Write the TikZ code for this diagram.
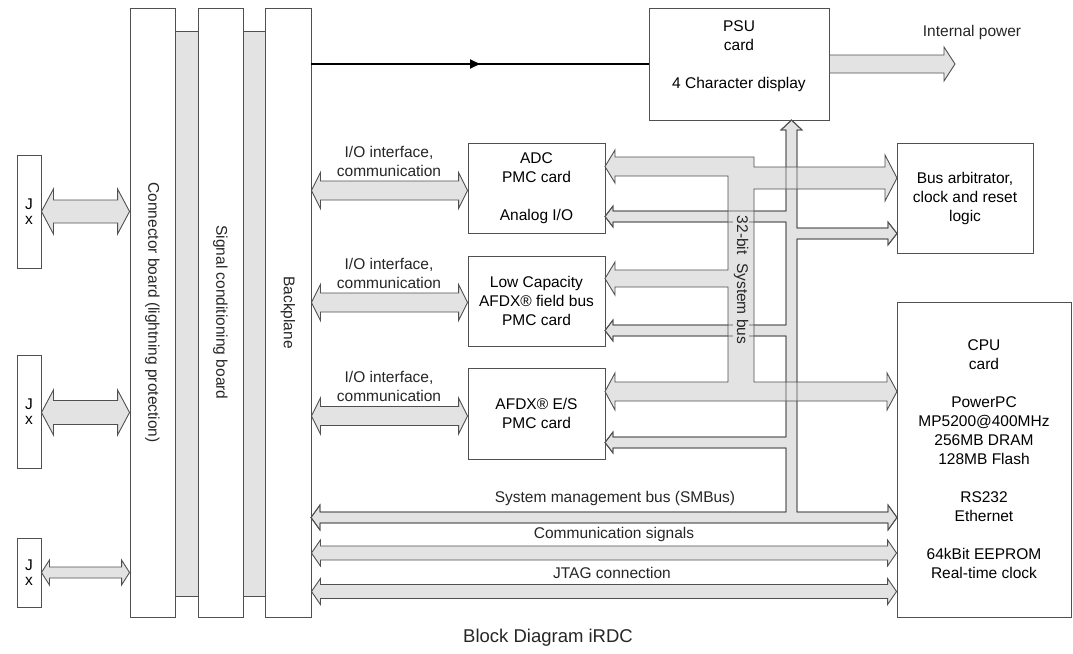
\documentclass[tikz,border=0pt]{standalone}
\usepackage{fontspec}
\setmainfont{Liberation Sans}
\usetikzlibrary{arrows.meta,positioning,calc,decorations.markings}
\definecolor{busfill}{HTML}{E3E3E3}
\definecolor{edgegray}{HTML}{505050}
\newcommand{\diagfont}{\fontsize{15.5}{19}\selectfont}
% outline of the narrow bus (PSU, arbitrator, card links, SMBus)
\newcommand{\smbuspath}{(791.5,120) -- (802,130) -- (797,130) -- (797,228) -- (888,228) -- (888,222) -- (897,233.5) -- (888,245) -- (888,239) -- (797,239) -- (797,512) -- (888,512) -- (888,505) -- (897,517.5) -- (888,530) -- (888,523) -- (320,523) -- (320,530) -- (311,517.5) -- (320,505) -- (320,512) -- (786,512) -- (786,448) -- (613,448) -- (613,453) -- (605,442.5) -- (613,432) -- (613,437) -- (786,437) -- (786,336) -- (613,336) -- (613,341) -- (605,330.5) -- (613,320) -- (613,325) -- (786,325) -- (786,222) -- (613,222) -- (613,227) -- (605,216.5) -- (613,206) -- (613,211) -- (786,211) -- (786,130) -- (781,130) -- cycle}
% outline of the 32-bit system bus
\newcommand{\sysbuspath}{(605,166.5) -- (615,150) -- (615,157) -- (754,157) -- (754,167) -- (885,167) -- (885,155) -- (897,178) -- (885,201) -- (885,189) -- (754,189) -- (754,382) -- (887,382) -- (887,373) -- (897,391.5) -- (887,410) -- (887,401) -- (615,401) -- (615,410) -- (605,391.5) -- (615,373) -- (615,382) -- (728,382) -- (728,287) -- (615,287) -- (615,295) -- (605,278.5) -- (615,262) -- (615,270) -- (728,270) -- (728,176) -- (615,176) -- (615,183) -- cycle}

\begin{document}
\begin{tikzpicture}[x=1pt,y=-1pt,>=Stealth,
  board/.style={draw=edgegray,fill=white,line width=0.9pt,inner sep=0pt},
  card/.style={draw=edgegray,fill=white,line width=0.9pt,align=center,font=\diagfont,inner sep=2pt},
  bus/.style={draw=edgegray,fill=busfill,line width=0.9pt},
  lbl/.style={align=center,font=\diagfont,text=black!85},
  dblfat/.style n args={3}{to path={(\tikztostart) -- ($(\tikztostart)+(#3,#2)$) -- ($(\tikztostart)+(#3,#1)$)
    -- ($(\tikztotarget)+(-#3,#1)$) -- ($(\tikztotarget)+(-#3,#2)$) -- (\tikztotarget)
    -- ($(\tikztotarget)+(-#3,-#2)$) -- ($(\tikztotarget)+(-#3,-#1)$)
    -- ($(\tikztostart)+(#3,-#1)$) -- ($(\tikztostart)+(#3,-#2)$) -- cycle}},
  sglfat/.style n args={3}{to path={(\tikztostart) -- ($(\tikztostart)+(0,#1)$)
    -- ($(\tikztotarget)+(-#3,#1)$) -- ($(\tikztotarget)+(-#3,#2)$) -- (\tikztotarget)
    -- ($(\tikztotarget)+(-#3,-#2)$) -- ($(\tikztotarget)+(-#3,-#1)$)
    -- ($(\tikztostart)+(0,-#1)$) -- cycle}}]
\useasboundingbox (0,0) rectangle (1073,653);
\fill[white] (0,0) rectangle (1073,653);

% gray spacers between the boards
\draw[bus] (175,31) rectangle (198,596);
\draw[bus] (243,31) rectangle (265,596);

\node[board,minimum width=45pt,minimum height=609pt] (cb) at (152.5,312.5) {};
\node[board,minimum width=45pt,minimum height=609pt] (sc) at (220.5,312.5) {};
\node[board,minimum width=46pt,minimum height=609pt] (bp) at (288,312.5) {};
\node[lbl,rotate=-90] at (cb) {Connector board (lightning protection)};
\node[lbl,rotate=-90] at (sc) {Signal conditioning board};
\node[lbl,rotate=-90] at (bp) {Backplane};

\node[card,minimum width=24pt,minimum height=113pt] (j1) at (29,211.5) {J\\[-4pt]x};
\node[card,minimum width=24pt,minimum height=113pt] (j2) at (29,411.5) {J\\[-4pt]x};
\node[card,minimum width=24pt,minimum height=69pt] (j3) at (29,572.5) {J\\[-4pt]x};

\node[card,minimum width=180pt,minimum height=112pt] (psu) at (739,64) {PSU\\card\\[19pt]4 Character display\\~};
\node[card,minimum width=137pt,minimum height=90pt] (adc) at (536.5,188) {ADC\\PMC card\\[19pt]Analog I/O};
\node[card,minimum width=137pt,minimum height=90pt] (lcap) at (536.5,301) {Low Capacity\\AFDX® field bus\\PMC card};
\node[card,minimum width=137pt,minimum height=91pt] (afdx) at (536.5,413.5) {AFDX® E/S\\PMC card};
\node[card,minimum width=136pt,minimum height=110pt] (arb) at (965,198) {Bus arbitrator,\\clock and reset\\logic};
\node[card,minimum width=174pt,minimum height=315pt] (cpu) at (984,459.5) {CPU\\card\\[19pt]PowerPC\\MP5200@400MHz\\256MB DRAM\\128MB Flash\\[19pt]RS232\\Ethernet\\[19pt]64kBit EEPROM\\Real-time clock};

% power and connector links
\draw[line width=1.8pt,postaction={decorate},decoration={markings,mark=at position 0.5 with {\arrow{Triangle[length=10pt,width=9pt]}}}] (bp.east |- psu.west) -- (psu.west);
\draw[bus] (psu.east) to[sglfat={9}{17}{11}] (955,64);
\draw[bus] (j1.east) to[dblfat={11.5}{22.5}{12}] (cb.west |- j1.east);
\draw[bus] ($(j2.east)+(0,1)$) to[dblfat={12}{22.5}{12}] ($(cb.west |- j2.east)+(0,1)$);
\draw[bus] (j3.east) to[dblfat={5.5}{12.5}{8}] (cb.west |- j3.east);
\draw[bus] ($(bp.east |- adc.west)+(0,2.5)$) to[dblfat={9.5}{18}{9}] ($(adc.west)+(0,2.5)$);
\draw[bus] ($(bp.east |- lcap.west)+(0,1.5)$) to[dblfat={9.5}{18}{9}] ($(lcap.west)+(0,1.5)$);
\draw[bus] ($(bp.east |- afdx.west)+(0,2.5)$) to[dblfat={9.5}{18}{9}] ($(afdx.west)+(0,2.5)$);
\coordinate (comm) at (0,553);
\coordinate (jtag) at (0,591.5);
\draw[bus] (bp.east |- comm) to[dblfat={7}{13}{9}] (cpu.west |- comm);
\draw[bus] (bp.east |- jtag) to[dblfat={7}{13}{9}] (cpu.west |- jtag);

% buses
\draw[bus] \smbuspath;
\draw[bus] \sysbuspath;
\draw[draw=edgegray,line width=0.9pt] \smbuspath;
\node[lbl,rotate=-90,fill=busfill,inner sep=1pt] at (741,280) {32-bit\ \ System bus};

% labels
\node[lbl] at (389,161) {I/O interface,\\communication};
\node[lbl] at (389,273) {I/O interface,\\communication};
\node[lbl] at (389,386) {I/O interface,\\communication};
\node[lbl] at (972,32) {Internal power};
\node[lbl] at (615,498) {System management bus (SMBus)};
\node[lbl] at (614,534) {Communication signals};
\node[lbl] at (612,573) {JTAG connection};
\node[font=\fontsize{18.5}{22}\selectfont,text=black!85] at (548,638) {Block Diagram iRDC};
\end{tikzpicture}
\end{document}
